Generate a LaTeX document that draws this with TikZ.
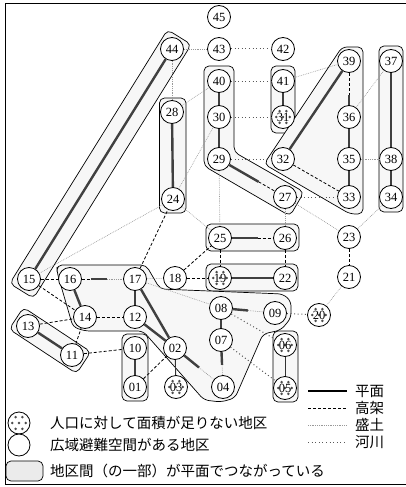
\documentclass[tikz,border=0pt]{standalone}
\usepackage{fontspec}
\setmainfont{Liberation Serif}
\newfontfamily\jp{Noto Sans CJK JP}
\usetikzlibrary{calc,backgrounds}
\newcommand{\grpseg}[4]{%
  \draw[grp] ($(#1)!-#4!(#2)!#3!90:(#2)$) -- ($(#2)!-#4!(#1)!#3!-90:(#1)$)
    -- ($(#2)!-#4!(#1)!#3!90:(#1)$) -- ($(#1)!-#4!(#2)!#3!-90:(#2)$) -- cycle;}
\begin{document}
\begin{tikzpicture}[x=1pt,y=-1pt,
  nd/.style={circle, draw, line width=0.8pt, fill=white, minimum size=23pt, inner sep=0pt,
    font=\fontsize{12.5}{13}\selectfont},
  hat/.style={nd, path picture={
    \foreach \a in {0,60,...,300}
      \fill[black!70] (path picture bounding box.center) ++(\a:6.8pt) circle[radius=1.4pt];
    \fill[black!70] (path picture bounding box.center) circle[radius=1.4pt];}},
  grp/.style={draw, line width=0.7pt, rounded corners=5pt, fill=black!3},
  plane/.style={line width=2.4pt, draw=black!75},
  thin/.style={line width=0.9pt, draw=black!80},
  elev/.style={line width=0.8pt, dash pattern=on 3pt off 2pt},
  embank/.style={line width=0.6pt, draw=black!40, dash pattern=on 0.8pt off 1pt},
  river/.style={line width=1pt, draw=black!65, dash pattern=on 1pt off 2.6pt},
  jptext/.style={anchor=west, inner sep=0pt, font=\jp\fontsize{14.5}{16}\selectfont}
]
\useasboundingbox (0,0) rectangle (405,487);
\draw[line width=0.9pt] (407,3) -- (5,3) -- (5,484) -- (407,484);

% nodes
\node[nd]  (n01) at (135,387) {01};
\node[nd]  (n02) at (175,348) {02};
\node[hat] (n03) at (176,387) {03};
\node[nd]  (n04) at (223,387) {04};
\node[hat] (n05) at (285,388) {05};
\node[hat] (n06) at (285,345) {06};
\node[nd]  (n07) at (221,340) {07};
\node[nd]  (n08) at (221,308) {08};
\node[nd]  (n09) at (275,313) {09};
\node[nd]  (n10) at (135,348) {10};
\node[nd]  (n11) at (72,355) {11};
\node[nd]  (n12) at (135,317) {12};
\node[nd]  (n13) at (28,326) {13};
\node[nd]  (n14) at (85,317) {14};
\node[nd]  (n15) at (29,279) {15};
\node[nd]  (n16) at (70,279) {16};
\node[nd]  (n17) at (135,279) {17};
\node[nd]  (n18) at (175,278) {18};
\node[hat] (n19) at (220,278) {19};
\node[hat] (n20) at (319,315) {20};
\node[nd]  (n21) at (349,277) {21};
\node[nd]  (n22) at (285,278) {22};
\node[nd]  (n23) at (349,237) {23};
\node[nd]  (n24) at (173,199) {24};
\node[nd]  (n25) at (220,238) {25};
\node[nd]  (n26) at (285,238) {26};
\node[nd]  (n27) at (285,197) {27};
\node[nd]  (n28) at (172,112) {28};
\node[nd]  (n29) at (219,159) {29};
\node[nd]  (n30) at (219,117) {30};
\node[hat] (n31) at (283,117) {31};
\node[nd]  (n32) at (283,159) {32};
\node[nd]  (n33) at (349,197) {33};
\node[nd]  (n34) at (391,197) {34};
\node[nd]  (n35) at (349,159) {35};
\node[nd]  (n36) at (349,117) {36};
\node[nd]  (n37) at (391,61) {37};
\node[nd]  (n38) at (391,159) {38};
\node[nd]  (n39) at (349,61) {39};
\node[nd]  (n40) at (219,81) {40};
\node[nd]  (n41) at (283,81) {41};
\node[nd]  (n42) at (283,49) {42};
\node[nd]  (n43) at (219,49) {43};
\node[nd]  (n44) at (172,49) {44};
\node[nd]  (n45) at (219,17) {45};

% group outlines
\begin{pgfonlayer}{background}
\grpseg{n44}{n15}{14pt}{14pt}
\grpseg{n13}{n11}{13pt}{14pt}
\draw[grp] (159.5,98) rectangle (186,213);
\draw[grp] (271,66) rectangle (295,133);
\draw[grp] (379,46) rectangle (403,212);
\draw[grp] (206,224) rectangle (299,251);
\draw[grp] (206,264) rectangle (298,291);
\draw[grp] (122,334) rectangle (148,401);
\draw[grp] (273,331) rectangle (298,402);
\draw[grp] (204,66) -- (234,66) -- (234,152) -- (304,192) -- (290,216) -- (204,166) -- cycle;
\draw[grp] (342,47) -- (363,47) -- (363,214) -- (350,214) -- (264,164) -- cycle;
\draw[grp] (57,265) -- (146,265) -- (160,289) -- (283,294) -- (291,301) -- (291,318)
  -- (281,330) -- (263,334) -- (235,398) -- (221,402) -- (204,400) -- (143,331)
  -- (85,331) -- (73,327) -- (57,272) -- cycle;
\end{pgfonlayer}

% plane (solid)
\draw[plane] (n44) -- (n15);
\draw[plane] (n28) -- (n24);
\draw[plane] (n40) -- (n30);
\draw[plane] (n30) -- (n29);
\draw[plane] (n41) -- (n31);
\draw[plane] (n39) -- (n32);
\draw[plane] (n36) -- (n35);
\draw[plane] (n35) -- (n33);
\draw[plane] (n37) -- (n38);
\draw[plane] (n38) -- (n34);
\draw[plane] (n19) -- (n22);
\draw[plane] (n17) -- (n12);
\draw[plane] (n17) -- (n02);
\draw[plane] (n12) -- (n02);
\draw[plane] (n16) -- (n14);
\draw[plane] (n10) -- (n01);
\draw[plane] (n13) -- (n11);
\draw[plane] (n08) -- (n07);
\draw[thin] (n02) -- (n03);
\draw[thin] (n06) -- (n05);

% composite links
\coordinate (c3936) at ($(n39)!0.6!(n36)$);
\draw[elev] (n39) -- (c3936);
\draw[plane] (c3936) -- (n36);
\coordinate (c2526) at ($(n25)!0.58!(n26)$);
\draw[plane] (n25) -- (c2526);
\draw[elev] (c2526) -- (n26);
\coordinate (c2927) at ($(n29)!0.6!(n27)$);
\draw[plane] (n29) -- (c2927);
\draw[elev] (c2927) -- (n27);
\coordinate (c1617a) at ($(n16)!0.32!(n17)$);
\coordinate (c1617b) at ($(n16)!0.57!(n17)$);
\draw[elev] (n16) -- (c1617a);
\draw[plane] (c1617a) -- (c1617b);
\draw[embank] (c1617b) -- (n17);
\coordinate (c0809) at ($(n08)!0.5!(n09)$);
\draw[plane] (n08) -- (c0809);
\draw[embank] (c0809) -- (n09);
\coordinate (c0704) at ($(n07)!0.53!(n04)$);
\draw[plane] (n07) -- (c0704);
\draw[embank] (c0704) -- (n04);
\coordinate (c0204) at ($(n02)!0.5!(n04)$);
\draw[plane] (n02) -- (c0204);
\draw[embank] (c0204) -- (n04);

% elevated (dashed)
\draw[elev] (n15) -- (n16);
\draw[elev] (n15) -- (n14);
\draw[elev] (n13) -- (n14);
\draw[elev] (n11) -- (n14);
\draw[elev] (n14) -- (n12);
\draw[elev] (n11) -- (n10);
\draw[elev] (n17) -- (n24);
\draw[elev] (n18) -- (n25);
\draw[elev] (n18) -- (n19);
\draw[elev] (n25) -- (n19);
\draw[elev] (n26) -- (n22);
\draw[elev] (n32) -- (n33);
\draw[elev] (n23) -- (n21);
\draw[elev] (n01) -- (n02);

% embankment (fine gray dotted)
\draw[embank] (n15) -- (n24);
\draw[embank] (n44) -- (n28);
\draw[embank] (n44) -- (n43);
\draw[embank] (n28) -- (n40);
\draw[embank] (n24) -- (n30);
\draw[embank] (n24) -- (n25);
\draw[embank] (n29) -- (n25);
\draw[embank] (n41) -- (n39);
\draw[embank] (n37) -- (n36);
\draw[embank] (n35) -- (n38);
\draw[embank] (n27) -- (n23);
\draw[embank] (n34) -- (n23);
\draw[embank] (n27) -- (n26);
\draw[embank] (n21) -- (n20);
\draw[embank] (n17) -- (n18);
\draw[embank] (n17) -- (n08);

% river (dotted)
\draw[river] (n43) -- (n42);
\draw[river] (n40) -- (n41);
\draw[river] (n30) -- (n31);
\draw[river] (n29) -- (n32);
\draw[river] (n27) -- (n33);
\draw[river] (n09) -- (n20);
\draw[river] (n08) -- (n06);
\draw[river] (n07) -- (n05);

% legend
\coordinate (la1) at (308,391); \coordinate (lb1) at (347,391);
\coordinate (la2) at (308,408); \coordinate (lb2) at (347,408);
\coordinate (la3) at (308,425); \coordinate (lb3) at (347,425);
\coordinate (la4) at (308,442); \coordinate (lb4) at (347,442);
\draw[line width=2.6pt] (la1) -- (lb1);
\draw[elev] (la2) -- (lb2);
\draw[embank] (la3) -- (lb3);
\draw[river] (la4) -- (lb4);
\node[jptext] (t1) at (355,391) {平面};
\node[jptext] (t2) at (355,408) {高架};
\node[jptext] (t3) at (355,425) {盛土};
\node[jptext] (t4) at (355,442) {河川};

\node[hat, minimum size=22pt] (lg1) at (19,423) {};
\node[nd, minimum size=22pt] (lg2) at (19,445) {};
\node[grp, rectangle, fill=black!8, minimum width=37pt, minimum height=20pt, inner sep=0pt] (lg3) at (24.5,471) {};
\node[jptext] (t5) at (50,423) {人口に対して面積が足りない地区};
\node[jptext] (t6) at (50,445) {広域避難空間がある地区};
\node[jptext] (t7) at (50,471) {地区間（の一部）が平面でつながっている};
\end{tikzpicture}
\end{document}
